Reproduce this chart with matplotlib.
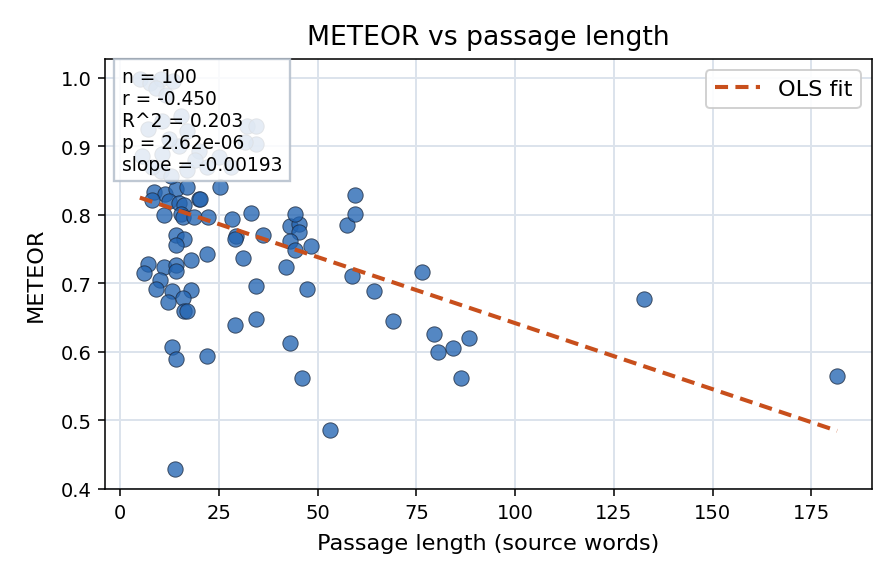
import numpy as np
import matplotlib
matplotlib.use("Agg")
import matplotlib.pyplot as plt

# Passage length (source words) and METEOR score
passage_len = [
    8.6, 11.3, 14.2, 17.0, 20.0, 20.3, 12.4, 15.0, 16.2, 11.2,
    15.5, 15.8, 18.8, 22.3, 25.2, 28.3, 33.2, 8.0, 14.2, 16.2,
    14.2, 29.4, 29.2, 36.2, 43.1, 45.2, 45.2, 44.2, 43.1, 44.2,
    48.2, 57.4, 59.4, 59.4, 7.1, 6.1, 11.2, 14.2, 14.2, 18.0,
    22.1, 31.2, 42.1, 10.2, 58.6, 76.4, 9.1, 13.2, 18.0, 16.0,
    12.2, 16.2, 17.0, 34.3, 47.2, 64.2, 132.5, 34.3, 29.2, 69.0,
    79.4, 88.3, 43.1, 13.2, 84.3, 80.5, 14.2, 22.1, 46.0, 86.3,
    181.5, 53.1, 14.0,
    5.0, 7.5, 10.4, 13.5, 9.0, 11.5, 10.5, 7.0, 17.0, 32.0,
    34.5, 34.5, 31.5, 15.5, 5.6, 10.7, 15.0, 20.0, 22.0, 10.4,
    13.0, 17.0, 19.0, 25.0, 8.0, 12.5, 28.0,
]
meteor = [
    0.834, 0.831, 0.838, 0.840, 0.823, 0.823, 0.820, 0.817, 0.814, 0.799,
    0.801, 0.797, 0.797, 0.797, 0.840, 0.794, 0.803, 0.822, 0.771, 0.765,
    0.756, 0.769, 0.765, 0.771, 0.784, 0.787, 0.775, 0.801, 0.762, 0.749,
    0.755, 0.785, 0.829, 0.801, 0.728, 0.715, 0.723, 0.727, 0.718, 0.734,
    0.742, 0.737, 0.723, 0.705, 0.711, 0.717, 0.692, 0.689, 0.690, 0.679,
    0.673, 0.660, 0.660, 0.696, 0.692, 0.688, 0.677, 0.648, 0.639, 0.645,
    0.626, 0.620, 0.613, 0.607, 0.606, 0.600, 0.590, 0.593, 0.562, 0.562,
    0.565, 0.485, 0.428,
    0.998, 0.993, 0.999, 0.995, 0.985, 0.975, 0.937, 0.926, 0.923, 0.930,
    0.930, 0.904, 0.907, 0.945, 0.886, 0.889, 0.900, 0.893, 0.870, 0.864,
    0.857, 0.866, 0.880, 0.885, 0.870, 0.910, 0.870,
]

# OLS fit parameters and statistics shown in the reference
fit_slope = -0.00193
fit_intercept = 0.8347
stat_n = 100
stat_r = -0.450
stat_r2 = 0.203
stat_p = 2.62e-06

x = np.array(passage_len)
y = np.array(meteor)

fig = plt.figure(figsize=(6.4, 4.1714), dpi=140)
ax = fig.add_axes([105/896, 1 - 490/584, (872 - 105)/896, (490 - 60)/584])

ax.grid(True, color="#dce3ec", linewidth=1.0, zorder=0)
ax.set_axisbelow(True)

ax.scatter(x, y, s=62, color="#2465b2", alpha=0.78, edgecolors="#1c2a40",
           linewidths=0.5, zorder=2)

xl = np.array([x.min(), x.max()])
ax.plot(xl, fit_intercept + fit_slope * xl, linestyle=(0, (3.2, 1.8)),
        color="#c84f1c", linewidth=2.1, label="OLS fit", zorder=3)

ax.set_title("METEOR vs passage length", fontsize=13.7, pad=7.5)
ax.set_xlabel("Passage length (source words)", fontsize=11.5, labelpad=6)
ax.set_ylabel("METEOR", fontsize=11.5, labelpad=7.5)
ax.tick_params(labelsize=10)
ax.set_xticks([0, 25, 50, 75, 100, 125, 150, 175])
ax.set_yticks([0.4, 0.5, 0.6, 0.7, 0.8, 0.9, 1.0])

txt = (f"n = {stat_n}\nr = {stat_r:.3f}\nR^2 = {stat_r2:.3f}\n"
       f"p = {stat_p:.2e}\nslope = {fit_slope:.5f}")
ax.text(0.022, 0.982, txt, transform=ax.transAxes, fontsize=9.6, va="top",
        ha="left", zorder=5,
        bbox=dict(boxstyle="square,pad=0.4", facecolor="white", alpha=0.85,
                  edgecolor="#b4bfcc", linewidth=1.2))

ax.legend(loc="upper right", fontsize=11.5, framealpha=0.9)

fig.savefig("out.png", dpi=140)
